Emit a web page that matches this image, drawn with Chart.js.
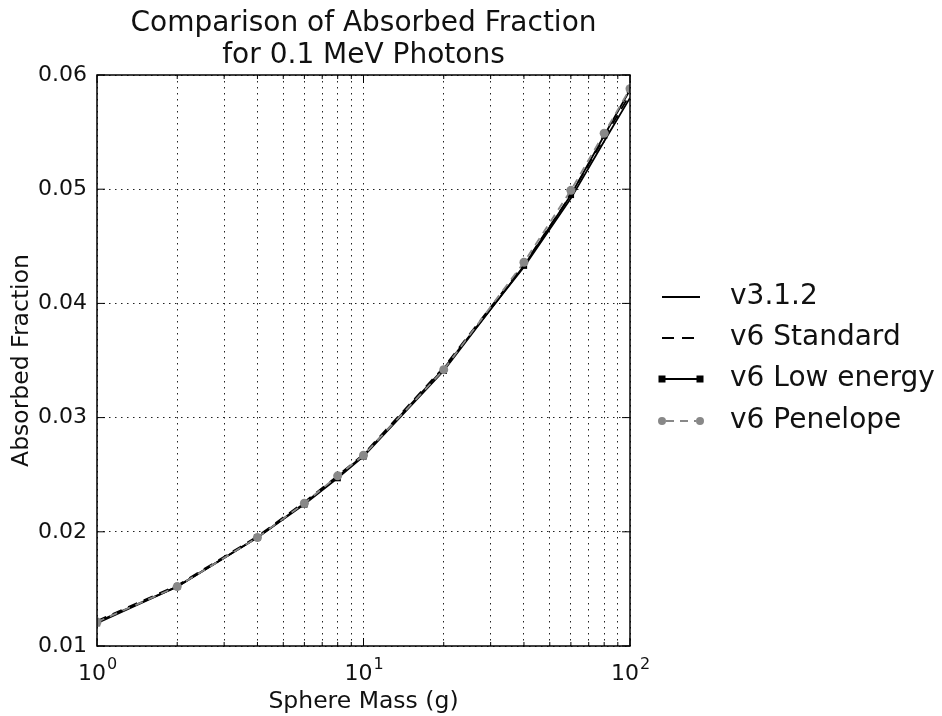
<!DOCTYPE html>
<html>
<head>
<meta charset="utf-8">
<script src="https://cdn.jsdelivr.net/npm/chart.js@4/dist/chart.umd.min.js"></script>
<style>
html,body{margin:0;padding:0;background:#fff;}
#wrap{width:942px;height:716px;position:relative;}
</style>
</head>
<body>
<div id="wrap"><canvas id="c" width="942" height="716"></canvas></div>
<script>
// ---- data ----
const masses = [1, 2, 4, 6, 8, 10, 20, 40, 60, 80, 100];
const v312 = [0.0121, 0.0152, 0.0195, 0.0225, 0.0248, 0.0267, 0.0343, 0.0432, 0.0492, 0.0542, 0.0580];
const v6Standard = [0.0122, 0.0153, 0.0196, 0.0226, 0.0249, 0.0268, 0.0344, 0.0434, 0.0495, 0.0545, 0.0583];
const v6LowEnergy = [0.0120, 0.0152, 0.0195, 0.0224, 0.0247, 0.0266, 0.0341, 0.0433, 0.0495, 0.0547, 0.0587];
const v6Penelope = [0.0121, 0.0152, 0.0195, 0.0225, 0.0249, 0.0267, 0.0342, 0.0436, 0.0499, 0.0549, 0.0588];
const xTickValues = [1,2,3,4,5,6,7,8,9,10,20,30,40,50,60,70,80,90,100];
const xMajorTicks = [1, 10, 100];
const xMajorExponents = ['0', '1', '2'];
const yTickValues = [0.01, 0.02, 0.03, 0.04, 0.05, 0.06];
const titleLines = ['Comparison of Absorbed Fraction', 'for 0.1 MeV Photons'];
const seriesNames = ['v3.1.2', 'v6 Standard', 'v6 Low energy', 'v6 Penelope'];

const FONT = "'DejaVu Sans', sans-serif";
const TEXT = '#111';
const pts = arr => masses.map((m, i) => ({x: m, y: arr[i]}));

const frameAndText = {
  id: 'frameAndText',
  afterDraw(chart) {
    const ctx = chart.ctx;
    const a = chart.chartArea;
    const xs = chart.scales.x, ys = chart.scales.y;
    ctx.save();
    // frame
    ctx.strokeStyle = '#000';
    ctx.lineWidth = 1.5;
    ctx.setLineDash([]);
    ctx.strokeRect(a.left, a.top, a.right - a.left, a.bottom - a.top);
    // inward tick marks
    ctx.lineWidth = 1;
    xTickValues.forEach(v => {
      const px = xs.getPixelForValue(v);
      const len = xMajorTicks.includes(v) ? 8 : 4;
      ctx.beginPath();
      ctx.moveTo(px, a.bottom); ctx.lineTo(px, a.bottom - len);
      ctx.moveTo(px, a.top); ctx.lineTo(px, a.top + len);
      ctx.stroke();
    });
    yTickValues.forEach(v => {
      const py = ys.getPixelForValue(v);
      ctx.beginPath();
      ctx.moveTo(a.left, py); ctx.lineTo(a.left + 8, py);
      ctx.moveTo(a.right, py); ctx.lineTo(a.right - 8, py);
      ctx.stroke();
    });
    // x tick labels: 10^n
    ctx.fillStyle = TEXT;
    ctx.textBaseline = 'alphabetic';
    ctx.textAlign = 'left';
    xMajorTicks.forEach((v, i) => {
      const px = xs.getPixelForValue(v);
      ctx.font = '22px ' + FONT;
      const w1 = ctx.measureText('10').width;
      ctx.font = '16px ' + FONT;
      const w2 = ctx.measureText(xMajorExponents[i]).width;
      const sx = px - (w1 + w2) / 2;
      ctx.font = '22px ' + FONT;
      ctx.fillText('10', sx, 680);
      ctx.font = '16px ' + FONT;
      ctx.fillText(xMajorExponents[i], sx + w1 + 1, 669);
    });
    // title
    ctx.font = '28px ' + FONT;
    ctx.textAlign = 'center';
    ctx.textBaseline = 'middle';
    const cx = (a.left + a.right) / 2;
    ctx.fillText(titleLines[0], cx, 24);
    ctx.fillText(titleLines[1], cx, 56);
    // legend
    const ly = [297, 338, 379, 421];
    const x0 = 662, x1 = 700, tx = 730;
    ctx.lineWidth = 1.8;
    ctx.strokeStyle = '#000';
    ctx.beginPath(); ctx.moveTo(x0, ly[0]); ctx.lineTo(x1, ly[0]); ctx.stroke();
    ctx.setLineDash([12, 8]);
    ctx.beginPath(); ctx.moveTo(x0, ly[1]); ctx.lineTo(x1, ly[1]); ctx.stroke();
    ctx.setLineDash([]);
    ctx.beginPath(); ctx.moveTo(x0, ly[2]); ctx.lineTo(x1, ly[2]); ctx.stroke();
    ctx.fillStyle = '#000';
    ctx.fillRect(x0 - 3.5, ly[2] - 3.5, 7, 7);
    ctx.fillRect(x1 - 3.5, ly[2] - 3.5, 7, 7);
    ctx.strokeStyle = '#888'; ctx.fillStyle = '#888';
    ctx.setLineDash([8, 6]);
    ctx.beginPath(); ctx.moveTo(x0 + 4, ly[3]); ctx.lineTo(x1 - 4, ly[3]); ctx.stroke();
    ctx.setLineDash([]);
    ctx.beginPath(); ctx.arc(x0, ly[3], 4, 0, Math.PI * 2); ctx.fill();
    ctx.beginPath(); ctx.arc(x1, ly[3], 4, 0, Math.PI * 2); ctx.fill();
    ctx.fillStyle = TEXT;
    ctx.textAlign = 'left';
    ctx.font = '28px ' + FONT;
    seriesNames.forEach((n, i) => ctx.fillText(n, tx, ly[i]));
    ctx.restore();
  }
};

new Chart(document.getElementById('c'), {
  type: 'line',
  data: {
    datasets: [
      {label: seriesNames[0], data: pts(v312), borderColor: '#000', borderWidth: 1.8, pointRadius: 0, order: 4},
      {label: seriesNames[1], data: pts(v6Standard), borderColor: '#000', borderWidth: 1.8, borderDash: [10, 7], pointRadius: 0, order: 3},
      {label: seriesNames[2], data: pts(v6LowEnergy), borderColor: '#000', backgroundColor: '#000', borderWidth: 1.8, pointStyle: 'rect', pointRadius: 4.5, pointBorderWidth: 0, order: 2},
      {label: seriesNames[3], data: pts(v6Penelope), borderColor: '#888', backgroundColor: '#888', borderWidth: 1.8, borderDash: [8, 6], pointStyle: 'circle', pointRadius: 4.5, pointBorderWidth: 0, order: 1}
    ]
  },
  options: {
    responsive: false,
    animation: false,
    devicePixelRatio: 1,
    layout: {padding: {left: 0, top: 75, right: 312, bottom: 0}},
    plugins: {legend: {display: false}, tooltip: {enabled: false}, title: {display: false}},
    elements: {line: {tension: 0, fill: false}},
    scales: {
      x: {
        type: 'logarithmic',
        min: 1, max: 100,
        afterBuildTicks: s => { s.ticks = xTickValues.map(v => ({value: v})); },
        afterFit: s => { s.height = 70; },
        ticks: {autoSkip: false, maxRotation: 0, display: false},
        grid: {color: '#222', lineWidth: 1, drawTicks: false},
        border: {display: false, dash: [1.5, 4.5]},
        title: {display: true, text: 'Sphere Mass (g)', color: TEXT, font: {family: FONT, size: 23.5}, padding: {top: 0, bottom: 0}}
      },
      y: {
        min: 0.01, max: 0.06,
        afterBuildTicks: s => { s.ticks = yTickValues.map(v => ({value: v})); },
        afterFit: s => { s.width = 97; },
        ticks: {
          padding: 10, color: TEXT, font: {family: FONT, size: 22},
          callback: v => v.toFixed(2)
        },
        grid: {color: '#222', lineWidth: 1, drawTicks: false},
        border: {display: false, dash: [1.5, 4.5]},
        title: {display: true, text: 'Absorbed Fraction', color: TEXT, font: {family: FONT, size: 23.5}, padding: {top: 8, bottom: 0}}
      }
    }
  },
  plugins: [frameAndText]
});
</script>
</body>
</html>
